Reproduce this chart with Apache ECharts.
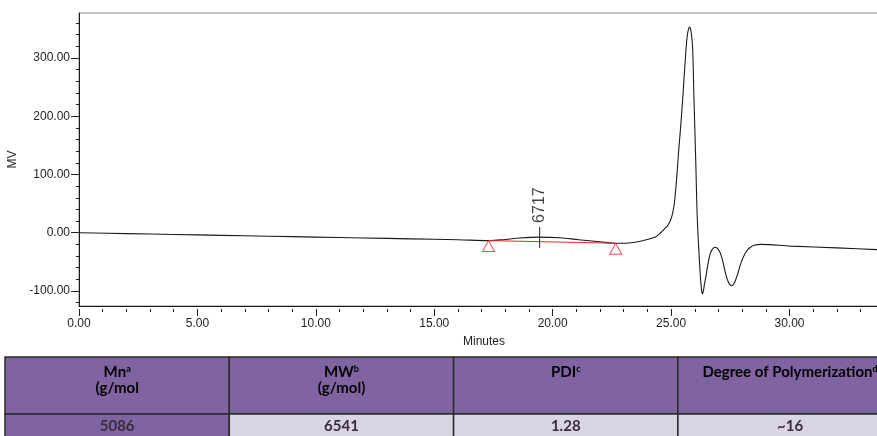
<!DOCTYPE html>
<html>
<head>
<meta charset="utf-8">
<title>GPC chromatogram</title>
<style>
  html, body { margin: 0; padding: 0; background: #fff; }
  #chart { width: 877px; height: 436px; }
</style>
<script src="https://cdn.jsdelivr.net/npm/echarts@6/dist/echarts.min.js"></script>
</head>
<body>
<div id="chart"></div>
<script>
// detector trace (minutes / MV)
const TIME = [0, 2, 4, 6, 8, 10, 12, 14, 16,
  17.3, 18, 18.6, 19.4, 20.3, 21.1, 22, 22.66, 23.2, 23.65,
  24.13, 24.35, 24.56, 24.73, 24.85, 24.98, 25.06, 25.15, 25.25, 25.32,
  25.4, 25.49, 25.55, 25.61, 25.66, 25.7, 25.74, 25.78, 25.82, 25.86, 25.91, 25.96, 26.04, 26.11,
  26.22, 26.27, 26.32, 26.37, 26.41, 26.47, 26.53, 26.6, 26.67, 26.77, 26.88,
  26.98, 27.09, 27.2, 27.3, 27.42, 27.54, 27.66, 27.8,
  27.94, 28.08, 28.22, 28.35, 28.48, 28.78, 30.05, 32, 33.72, 34.2]
const SIGNAL = [0, -1.5, -3, -4.5, -6, -7.5, -9, -10.5, -12,
  -13.5, -11.5, -9, -7.5, -8.5, -12, -15.5, -18, -17.5, -15,
  -10, -7, 0, 7, 12, 22, 33, 55, 102, 141,
  180, 230, 268, 303, 330, 343, 350, 353, 350, 340, 316, 238, 124, 20,
  -65, -92, -105, -98, -88, -75, -60, -45, -34, -27, -25,
  -28, -36, -52, -70, -85, -91, -87, -72,
  -53, -39, -30, -25, -22, -20, -23, -26, -29, -29.5]

// integration baseline of the polymer peak (start / end markers)
const BASELINE_TIME = [17.29, 22.66]
const BASELINE_SIGNAL = [-13.5, -18]

// peak apex marker
const PEAK_TIME = 19.45
const PEAK_TICK = [-26, 10]
const PEAK_MW = '6717'

// axes
const X_MIN = 0
const X_MAX = 34.2
const Y_MIN = -125.8
const Y_MAX = 377.3
const X_LABELS = [0, 5, 10, 15, 20, 25, 30]
const X_MINOR = [0, 1, 2, 3, 4, 5, 6, 7, 8, 9, 10, 11, 12, 13, 14, 15, 16, 17, 18, 19, 20,
  21, 22, 23, 24, 25, 26, 27, 28, 29, 30, 31, 32, 33, 34]
const Y_LABELS = [-100, 0, 100, 200, 300]
const Y_MINOR = [-120, -100, -80, -60, -40, -20, 0, 20, 40, 60, 80, 100, 120, 140, 160,
  180, 200, 220, 240, 260, 280, 300, 320, 340, 360]

// results table
const TABLE_HEAD = ['Mn', 'MW', 'PDI', 'Degree of Polymerization']
const TABLE_NOTE = ['a', 'b', 'c', 'd']
const TABLE_UNIT = ['(g/mol', '(g/mol)', '', '']
const TABLE_ROW = ['5086', '6541', '1.28', '~16']

const INK = '#1a1a1a'
const RED = '#e8262b'
const PURPLE = '#8064a2'
const LAVENDER = '#dad5e3'
const CELL_TEXT = '#352e3d'
const AXIS_FONT = { fontFamily: 'Liberation Sans', fontSize: 12, color: '#222' }

/**
 * @description build the table under the chart as graphic elements
 */
const buildTable = () => {
    const left = 5
    const top = 357
    const colW = 224.3
    const headH = 57
    const rowH = 32
    const rich = {
        t: { fontFamily: 'Lato', fontWeight: 'bold', fontSize: 15, lineHeight: 16, color: CELL_TEXT },
        s: { fontFamily: 'Lato', fontWeight: 'bold', fontSize: 9, lineHeight: 16, verticalAlign: 'top', color: CELL_TEXT },
    }
    const els = []
    TABLE_HEAD.forEach((head, i) => {
        const x = left + i * colW
        els.push({
            type: 'rect',
            shape: { x, y: top, width: colW, height: headH },
            style: { fill: PURPLE, stroke: '#2b2b2b', lineWidth: 1.5 },
        })
        els.push({
            type: 'rect',
            shape: { x, y: top + headH, width: colW, height: rowH },
            style: { fill: i === 0 ? PURPLE : LAVENDER, stroke: '#2b2b2b', lineWidth: 1.5 },
        })
        let text = `{t|${head}}{s|${TABLE_NOTE[i]}}`
        if (TABLE_UNIT[i]) text += `\n{t|${TABLE_UNIT[i]}}`
        els.push({
            type: 'text',
            z: 10,
            style: { text, x: x + colW / 2, y: top + 7.5, align: 'center', verticalAlign: 'top', rich },
        })
        els.push({
            type: 'text',
            z: 10,
            style: {
                text: TABLE_ROW[i], x: x + colW / 2, y: top + headH + 12.5,
                align: 'center', verticalAlign: 'middle',
                fontFamily: 'Lato', fontWeight: 'bold', fontSize: 15, fill: CELL_TEXT,
            },
        })
    })
    return els
}

const chart = echarts.init(document.getElementById('chart'), null, { renderer: 'canvas' })

const xAxisBase = { type: 'value', min: X_MIN, max: X_MAX, position: 'bottom', splitLine: { show: false } }
const yAxisBase = { type: 'value', min: Y_MIN, max: Y_MAX, position: 'left', splitLine: { show: false } }

const option = {
    animation: false,
    grid: {
        left: 79, top: 13, right: -12, bottom: 130,
        show: true, borderColor: '#8a8a8a', borderWidth: 1,
        outerBoundsMode: 'none',
    },
    xAxis: [
        {
            ...xAxisBase,
            name: 'Minutes', nameLocation: 'middle', nameGap: 30,
            nameTextStyle: { ...AXIS_FONT },
            axisLine: { show: true, onZero: false, lineStyle: { color: INK, width: 1 } },
            axisTick: { show: false },
            axisLabel: { customValues: X_LABELS, formatter: v => v.toFixed(2), margin: 12, ...AXIS_FONT },
        },
        {
            ...xAxisBase, offset: 3,
            axisLine: { show: false, onZero: false },
            axisTick: { show: true, length: 7, customValues: X_LABELS, lineStyle: { color: '#222' } },
            axisLabel: { show: false },
        },
        {
            ...xAxisBase, offset: 3,
            axisLine: { show: false, onZero: false },
            axisTick: { show: true, length: 3, customValues: X_MINOR, lineStyle: { color: '#222' } },
            axisLabel: { show: false },
        },
    ],
    yAxis: [
        {
            ...yAxisBase,
            name: 'MV', nameLocation: 'middle', nameGap: 59, nameRotate: 90,
            nameTextStyle: { ...AXIS_FONT },
            axisLine: { show: true, onZero: false, lineStyle: { color: INK, width: 1 } },
            axisTick: { show: true, length: 8, customValues: Y_LABELS, lineStyle: { color: '#222' } },
            axisLabel: { customValues: Y_LABELS, formatter: v => v.toFixed(2), margin: 9, ...AXIS_FONT },
        },
        {
            ...yAxisBase,
            axisLine: { show: false, onZero: false },
            axisTick: { show: true, length: 3, customValues: Y_MINOR, lineStyle: { color: '#222' } },
            axisLabel: { show: false },
        },
    ],
    series: [
        {
            type: 'line',
            data: TIME.map((t, i) => [t, SIGNAL[i]]),
            symbol: 'none',
            smooth: 0.35,
            lineStyle: { color: INK, width: 1.1 },
            silent: true,
            z: 3,
        },
        {
            type: 'line',
            data: BASELINE_TIME.map((t, i) => [t, BASELINE_SIGNAL[i]]),
            symbol: 'none',
            lineStyle: { color: RED, width: 1 },
            silent: true,
            z: 4,
        },
        {
            type: 'scatter',
            data: BASELINE_TIME.map((t, i) => [t, BASELINE_SIGNAL[i]]),
            symbol: 'triangle',
            symbolSize: [12, 11],
            symbolOffset: [0, '50%'],
            itemStyle: { color: 'rgba(0,0,0,0)', borderColor: RED, borderWidth: 1 },
            silent: true,
            z: 4,
        },
        {
            type: 'line',
            data: PEAK_TICK.map(v => [PEAK_TIME, v]),
            symbol: 'none',
            lineStyle: { color: '#222', width: 1 },
            silent: true,
            z: 5,
        },
        {
            type: 'scatter',
            data: [[PEAK_TIME, PEAK_TICK[1]]],
            symbolSize: 0,
            label: {
                show: true, formatter: PEAK_MW, rotate: 90,
                position: 'top', distance: 4, align: 'left', verticalAlign: 'middle',
                fontFamily: 'Liberation Sans', fontSize: 16, color: '#111',
            },
            silent: true,
            z: 5,
        },
    ],
    graphic: buildTable(),
}

chart.setOption(option)
</script>
</body>
</html>
